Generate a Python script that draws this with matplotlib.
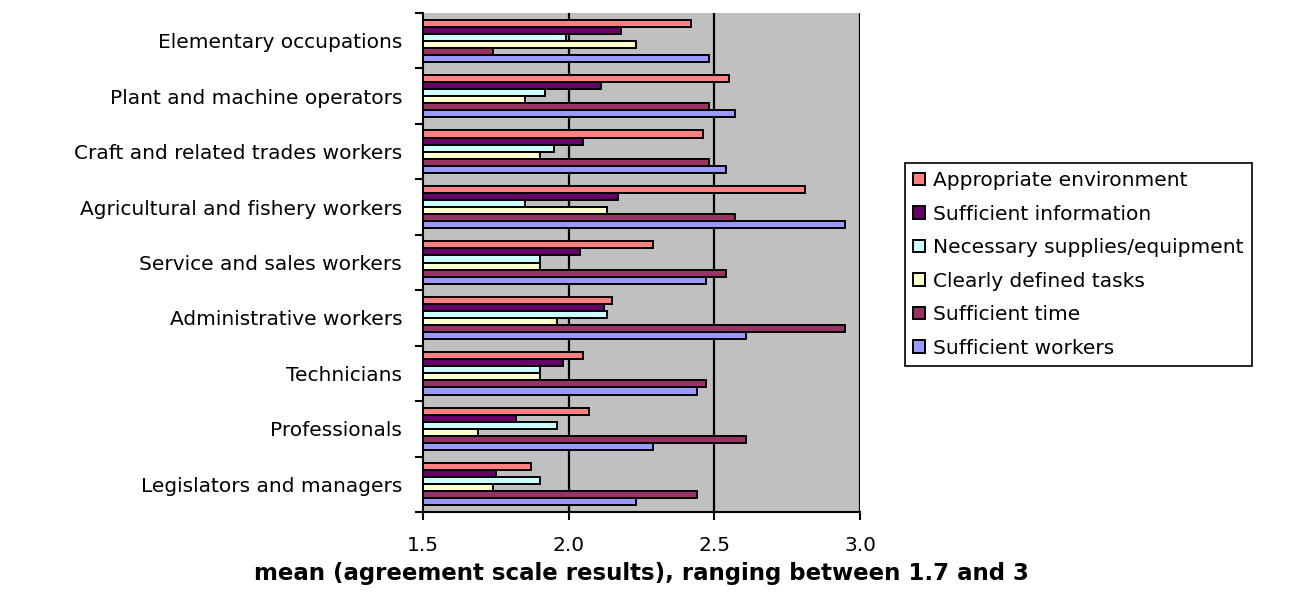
import numpy as np
import matplotlib
matplotlib.use('Agg')
from matplotlib import pyplot as plt

# occupation groups, listed top to bottom as they appear
occupations = ['Elementary occupations', 'Plant and machine operators',
               'Craft and related trades workers', 'Agricultural and fishery workers',
               'Service and sales workers', 'Administrative workers',
               'Technicians', 'Professionals', 'Legislators and managers']

series_names = ['Appropriate environment', 'Sufficient information',
                'Necessary supplies/equipment', 'Clearly defined tasks',
                'Sufficient time', 'Sufficient workers']

appropriate_environment = [2.42, 2.55, 2.46, 2.81, 2.29, 2.15, 2.05, 2.07, 1.87]
sufficient_information = [2.18, 2.11, 2.05, 2.17, 2.04, 2.12, 1.98, 1.82, 1.75]
necessary_supplies = [1.99, 1.92, 1.95, 1.85, 1.90, 2.13, 1.90, 1.96, 1.90]
clearly_defined_tasks = [2.23, 1.85, 1.90, 2.13, 1.90, 1.96, 1.90, 1.69, 1.74]
sufficient_time = [1.74, 2.48, 2.48, 2.57, 2.54, 2.95, 2.47, 2.61, 2.44]
sufficient_workers = [2.48, 2.57, 2.54, 2.95, 2.47, 2.61, 2.44, 2.29, 2.23]

xticks = [1.5, 2.0, 2.5, 3.0]
xlabel = 'mean (agreement scale results), ranging between 1.7 and 3'

colors = ['#FF8080', '#660066', '#CCFFFF', '#FFFFCC', '#993366', '#9999FF']

series = [appropriate_environment, sufficient_information, necessary_supplies,
          clearly_defined_tasks, sufficient_time, sufficient_workers]

plt.rcParams['font.family'] = 'DejaVu Sans'
fig = plt.figure(figsize=(13.05, 5.95), dpi=100)
ax = fig.add_axes([423/1305, 1-512/595, (860-423)/1305, (512-13)/595])
ax.set_facecolor('#C0C0C0')

n = len(occupations)
pos = np.arange(n)[::-1]  # first occupation on top
h = 0.127
for i, (vals, col, name) in enumerate(zip(series, colors, series_names)):
    off = (2.5 - i) * h
    ax.barh(pos + off, np.array(vals) - 1.5, left=1.5, height=h, color=col,
            edgecolor='black', linewidth=1.4, label=name, zorder=3)

ax.set_xlim(1.5, 3.0)
ax.set_ylim(-0.5, n - 0.5)
ax.set_xticks(xticks)
ax.set_xticklabels(['%.1f' % t for t in xticks], fontsize=14.5)
for t in xticks[1:]:
    ax.axvline(t, color='black', linewidth=1.6, zorder=2)

ax.set_yticks(pos)
ax.set_yticklabels(occupations, fontsize=14.5)
ax.tick_params(axis='y', length=0, pad=15)
ax.set_yticks(np.arange(-0.5, n, 1.0), minor=True)
ax.tick_params(axis='y', which='minor', length=6, width=1.5, direction='out')
ax.tick_params(axis='x', length=6, width=1.5, direction='out', pad=11)

for s in ['top', 'right']:
    ax.spines[s].set_visible(False)
ax.spines['left'].set_linewidth(1.5)
ax.spines['bottom'].set_linewidth(1.5)

ax.set_xlabel(xlabel, fontsize=16.5, fontweight='bold', labelpad=5)

leg = ax.legend(loc='upper left', bbox_to_anchor=(905/1305, 1-163/595),
                bbox_transform=fig.transFigure, borderaxespad=0, fontsize=14.5,
                handlelength=0.6, handleheight=0.6, handletextpad=0.4,
                labelspacing=0.72, fancybox=False, framealpha=1,
                edgecolor='black', borderpad=0.4)
leg.get_frame().set_linewidth(1.2)

fig.savefig('out.png', dpi=100)
